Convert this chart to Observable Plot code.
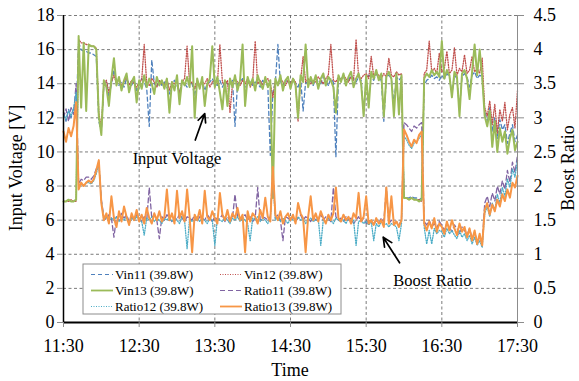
<!DOCTYPE html>
<html><head><meta charset="utf-8">
<script src="https://cdn.jsdelivr.net/npm/d3@7"></script>
<script src="https://cdn.jsdelivr.net/npm/@observablehq/plot@0.6"></script>
<style>
body{margin:0;background:#fff;}
#chart{width:579px;height:381px;}
#chart svg, #chart svg text{font-family:Liberation Serif, DejaVu Serif, serif !important;}
</style></head><body><div id="chart"></div>
<script>
// ---- axis definitions ----
const timeTicks = [0, 60, 120, 180, 240, 300, 360];          // minutes after 11:30
const timeLabels = ["11:30", "12:30", "13:30", "14:30", "15:30", "16:30", "17:30"];
const voltTicks = [0, 2, 4, 6, 8, 10, 12, 14, 16, 18];
const ratioTicks = [0, 0.5, 1, 1.5, 2, 2.5, 3, 3.5, 4, 4.5];
const R2V = 18 / 4.5;      // right axis (ratio) to left axis (volts)
const step = 2;            // sampling interval, minutes

// ---- series (one value every 2 minutes, 11:30 .. 17:30) ----
const vin11 = [
 12.3,11.8,12.5,12.0,12.6,12.2,16.4,16.0,15.9,15.9,
 15.8,15.8,15.7,15.6,11.8,11.2,13.9,14.1,13.2,14.0,
 14.8,14.2,13.9,14.1,13.8,14.3,14.0,13.9,14.2,13.6,
 14.0,14.3,14.1,13.7,11.5,15.4,14.0,13.8,14.2,13.9,
 14.1,13.8,13.4,14.0,14.2,13.9,13.5,14.1,14.0,13.8,
 14.2,14.0,13.3,14.1,13.9,14.2,13.6,14.0,14.1,14.3,
 14.0,13.9,14.2,13.8,14.1,14.0,13.9,14.2,11.5,14.0,
 14.1,14.3,13.8,14.0,14.2,13.9,14.1,14.0,13.8,14.2,
 14.0,13.9,9.8,13.5,14.1,16.3,14.0,13.9,14.2,14.1,
 13.9,14.2,14.0,13.8,14.3,12.4,14.1,14.0,14.2,13.9,
 14.3,14.1,14.0,14.4,14.2,13.9,14.3,14.1,9.7,14.2,
 14.3,14.4,14.1,14.2,14.5,14.3,14.1,14.4,14.2,12.2,
 14.3,14.5,14.4,14.2,14.6,14.3,14.2,11.8,14.4,14.5,
 14.3,12.8,14.4,14.2,14.4,7.4,7.3,7.3,7.4,7.3,
 7.3,7.2,7.3,13.9,14.2,14.3,14.5,14.3,14.4,14.2,
 14.5,14.3,14.6,14.4,13.4,14.5,14.3,12.5,14.4,14.6,
 14.4,13.8,14.5,14.7,14.3,14.5,14.4,12.4,11.8,12.6,
 11.2,12.0,10.8,11.9,11.3,11.6,10.5,11.1,11.6,10.6,
 11.0];
const vin12 = [
 7.1,7.1,7.1,7.2,7.1,7.1,16.6,16.4,16.4,16.3,
 16.3,16.2,16.2,16.1,12.3,11.4,14.0,14.2,13.5,14.1,
 14.5,14.0,14.3,13.9,14.1,14.4,13.9,14.2,14.0,13.8,
 14.1,14.2,16.3,14.0,13.9,14.3,14.1,13.8,14.2,14.0,
 13.9,14.3,13.6,14.1,14.0,14.2,13.4,14.1,14.3,16.2,
 14.0,14.1,13.7,14.2,13.9,14.1,14.0,14.3,13.8,14.1,
 14.2,14.0,16.3,14.1,13.9,14.2,12.3,14.0,14.3,14.1,
 13.9,14.2,14.0,14.3,13.8,14.1,16.5,14.0,14.2,13.9,
 14.1,14.3,14.0,13.2,14.2,14.0,14.3,14.1,13.9,14.2,
 14.0,14.3,14.1,11.8,14.2,15.6,14.1,14.3,14.0,14.2,
 14.1,14.4,14.2,14.0,14.3,14.5,16.3,14.2,14.1,14.4,
 14.2,14.5,14.3,14.1,14.4,14.2,16.6,14.4,14.3,14.5,
 14.6,14.3,15.6,14.4,14.6,14.5,14.3,14.6,14.4,15.5,
 14.5,14.4,14.7,14.5,14.6,7.3,7.3,7.2,7.3,7.2,
 7.2,7.2,7.1,14.6,14.8,16.5,14.7,14.9,14.6,15.8,
 14.7,14.9,15.9,14.6,14.8,16.1,14.5,14.9,14.7,15.7,
 14.6,14.8,15.6,14.7,14.9,14.6,15.5,12.6,12.1,13.0,
 11.6,12.8,11.1,12.5,11.8,12.9,11.3,12.2,12.6,11.4,
 13.6];
const vin13 = [
 7.1,7.1,7.2,7.1,7.1,7.2,16.8,12.6,16.4,12.4,
 16.3,16.2,16.2,16.0,12.1,11.0,14.2,13.8,12.7,14.3,
 15.5,13.9,14.4,13.6,14.2,14.6,13.5,14.1,14.4,12.9,
 14.2,13.7,14.5,13.8,14.3,14.0,13.4,14.4,13.9,14.2,
 13.7,14.3,12.3,14.1,13.6,14.5,12.8,14.2,13.9,14.4,
 13.8,16.2,12.0,14.3,13.7,14.4,12.7,14.0,14.3,16.2,
 13.8,14.4,13.5,12.5,14.2,12.7,14.3,13.8,14.5,13.6,
 14.2,16.3,12.7,14.4,13.9,14.3,13.6,14.5,14.0,13.7,
 14.4,13.8,14.2,7.3,14.3,13.9,14.5,13.6,14.2,14.4,
 13.7,14.3,13.9,12.0,14.5,14.1,16.3,13.8,14.4,14.0,
 14.5,13.7,14.3,14.6,13.9,14.4,14.2,13.8,12.3,14.5,
 14.1,14.6,13.9,14.4,14.7,13.8,14.3,14.6,14.0,12.1,
 14.5,12.6,14.7,14.3,14.8,14.2,14.6,12.1,14.4,14.7,
 14.3,12.1,14.6,12.2,14.5,7.3,7.3,7.2,7.3,7.2,
 7.2,7.1,7.2,14.3,14.6,14.4,14.8,14.5,14.7,14.4,
 16.5,14.3,14.8,14.5,13.2,14.7,14.4,12.1,14.6,14.8,
 14.3,13.1,14.7,16.3,14.5,16.0,14.4,12.1,11.5,12.4,
 10.3,11.8,10.0,11.4,10.6,11.2,9.9,10.8,11.3,10.1,
 10.6];
const ratio11 = [
 3.00,3.13,2.95,3.15,3.05,3.50,2.03,2.10,2.08,2.13,
 2.13,2.10,2.15,2.25,2.35,1.80,1.55,1.50,1.58,1.53,
 1.25,1.55,1.50,1.60,1.53,1.58,1.48,1.55,1.50,1.58,
 1.53,1.48,1.55,1.50,1.98,1.53,1.58,1.50,1.23,1.55,
 1.50,1.58,1.53,1.48,1.55,1.50,1.60,1.53,1.48,1.55,
 1.53,1.50,1.58,1.48,1.55,1.53,1.50,1.58,1.53,1.48,
 1.55,1.50,1.53,1.58,1.48,1.55,1.50,1.53,1.88,1.55,
 1.50,1.53,1.58,1.50,1.55,1.48,1.53,1.98,1.50,1.55,
 1.53,1.50,1.55,2.23,1.53,1.58,1.50,1.20,1.55,1.53,
 1.50,1.55,1.48,1.53,1.58,1.50,1.55,1.53,1.48,1.55,
 1.50,1.53,1.58,1.50,1.55,1.53,1.48,1.98,1.55,1.50,
 1.53,1.48,1.55,1.50,1.53,1.45,1.50,1.55,1.48,1.53,
 1.45,1.50,1.48,1.43,1.50,1.45,1.53,1.48,1.98,1.45,
 1.50,1.45,1.48,1.43,1.50,2.93,2.90,2.85,2.80,2.88,
 2.85,2.90,2.93,1.48,1.43,1.50,1.40,1.45,1.38,1.48,
 1.43,1.35,1.45,1.40,1.33,1.43,1.38,1.30,1.40,1.35,
 1.28,1.38,1.23,1.33,1.18,1.25,1.15,1.75,1.85,1.70,
 1.90,1.78,2.00,1.88,2.08,1.95,2.23,2.05,2.35,2.20,
 2.45];
const ratio12 = [
 3.05,2.98,3.10,3.03,3.13,3.38,2.00,2.03,2.00,2.05,
 2.05,2.03,2.08,2.18,2.33,1.78,1.50,1.55,1.48,1.53,
 1.50,1.55,1.48,1.53,1.50,1.55,1.45,1.53,1.50,1.55,
 1.50,1.48,1.28,1.53,1.50,1.55,1.48,1.53,1.50,1.45,
 1.53,1.50,1.55,1.48,1.53,1.50,1.45,1.55,1.50,1.08,
 1.53,1.48,1.50,1.55,1.48,1.53,1.50,1.45,1.53,1.50,
 1.13,1.53,1.50,1.48,1.55,1.50,1.45,1.53,1.50,1.55,
 1.48,1.53,1.50,1.45,1.20,1.53,1.50,1.55,1.48,1.53,
 1.50,1.45,1.53,2.13,1.50,1.55,1.48,1.53,1.50,1.45,
 1.53,1.50,1.48,1.55,1.50,1.53,1.45,1.50,1.53,1.48,
 1.50,1.53,1.13,1.50,1.48,1.53,1.50,1.45,1.53,1.50,
 1.48,1.50,1.45,1.53,1.48,1.50,1.13,1.48,1.50,1.45,
 1.48,1.43,1.48,1.20,1.45,1.40,1.48,1.43,1.45,1.40,
 1.45,1.43,1.40,1.20,1.45,2.73,2.68,2.60,2.55,2.63,
 2.65,2.70,2.75,1.40,1.15,1.35,1.15,1.38,1.30,1.35,
 1.33,1.25,1.38,1.30,1.35,1.28,1.23,1.35,1.25,1.30,
 1.20,1.28,1.15,1.25,1.13,1.20,1.10,1.60,1.70,1.55,
 1.75,1.65,1.88,1.75,1.98,1.85,2.10,1.98,2.25,2.13,
 2.38];
const ratio13 = [
 2.80,2.65,2.85,2.73,2.88,3.23,1.95,2.05,2.00,2.05,
 2.08,2.05,2.10,2.23,2.38,1.75,1.50,1.60,1.45,1.85,
 1.53,1.40,1.63,1.48,1.70,1.55,1.43,1.60,1.50,1.65,
 1.48,1.58,1.45,1.68,1.53,1.45,1.60,1.50,1.63,1.48,
 1.55,1.95,1.50,1.60,1.45,1.93,1.53,1.63,1.48,1.95,
 1.55,1.03,1.58,1.50,1.65,1.45,1.93,1.55,1.50,1.63,
 1.53,1.45,1.90,1.58,1.50,1.65,1.48,1.60,1.53,1.68,
 1.50,1.58,1.03,1.63,1.48,1.60,1.55,1.45,1.65,1.53,
 1.83,1.55,1.48,2.28,1.58,1.50,1.63,1.45,1.55,1.60,
 1.50,1.58,1.45,1.75,1.60,1.53,1.03,1.55,1.85,1.50,
 1.60,1.48,1.63,1.53,1.45,1.58,1.50,1.60,1.98,1.53,
 1.48,1.58,1.50,1.55,1.45,1.60,1.53,1.90,1.48,1.55,
 1.85,1.45,1.50,1.43,1.53,1.45,1.50,1.40,1.98,1.45,
 1.85,1.43,1.48,1.40,1.50,2.83,2.75,2.65,2.58,2.68,
 2.63,2.75,2.80,1.45,1.35,1.48,1.38,1.53,1.33,1.45,
 1.40,1.30,1.48,1.35,1.50,1.38,1.28,1.45,1.33,1.40,
 1.25,1.38,1.20,1.35,1.15,1.30,1.13,1.65,1.75,1.58,
 1.73,1.63,1.80,1.70,1.88,1.78,1.95,1.83,2.05,1.98,
 2.15];

const seriesNames = ["Vin11 (39.8W)", "Vin12 (39.8W)", "Vin13 (39.8W)", "Ratio11 (39.8W)", "Ratio12 (39.8W)", "Ratio13 (39.8W)"];
const seriesValues = [vin11, vin12, vin13, ratio11, ratio12, ratio13];
const seriesIsRatio = [false, false, false, true, true, true];
const seriesColors = ["#4F81BD", "#C0504D", "#9BBB59", "#8064A2", "#4BACC6", "#F79646"];
const seriesDash = ["4,3", "1,1.5", null, "5,3", "1,1.5", null];
const seriesWidth = [1.3, 1.3, 2, 1.3, 1.3, 2];

// annotations (in data coordinates: minutes after 11:30, volts)
const annotations = [
  {t: 90, v: 9.6, label: "Input Voltage"},
  {t: 292.5, v: 2.45, label: "Boost Ratio"}
];
const arrows = [
  {t1: 104.5, v1: 10.7, t2: 112, v2: 12.25},
  {t1: 266.5, v1: 3.5, t2: 253.5, v2: 5.0}
];

const FONT = "Liberation Serif, DejaVu Serif, serif";

const lineMarks = seriesValues.map((vals, k) => Plot.line(vals, {
  x: (d, i) => i * step,
  y: d => seriesIsRatio[k] ? d * R2V : d,
  stroke: seriesColors[k],
  strokeWidth: seriesWidth[k],
  strokeDasharray: seriesDash[k] || undefined,
  strokeLinejoin: "round"
}));

const gridStyle = {stroke: "#595959", strokeOpacity: 1, strokeDasharray: "3,2.5", strokeWidth: 0.8};

const chart = Plot.plot({
  width: 579, height: 381,
  marginLeft: 63, marginRight: 62, marginTop: 15, marginBottom: 59,
  style: {fontFamily: FONT, fontSize: "18px", background: "#fff", overflow: "visible"},
  x: {domain: [0, 360]},
  y: {domain: [0, 18]},
  marks: [
    Plot.gridY(voltTicks.slice(1), gridStyle),
    Plot.gridX(timeTicks.slice(1, -1), gridStyle),
    ...lineMarks,
    Plot.ruleX([360], {stroke: "#8c8c8c", strokeWidth: 1}),
    Plot.ruleX([0], {stroke: "#000", strokeWidth: 1.5}),
    Plot.ruleY([0], {stroke: "#000", strokeWidth: 2}),
    Plot.axisY(voltTicks, {anchor: "left", tickSize: 6, tickPadding: 3, fontSize: 18, fontFamily: FONT, stroke: "#8c8c8c", label: null}),
    Plot.axisY(ratioTicks.map(r => r * R2V), {anchor: "right", tickSize: 6, tickPadding: 10, fontSize: 18, fontFamily: FONT, stroke: "#8c8c8c", tickFormat: d => String(d / R2V), label: null}),
    Plot.axisX(timeTicks, {anchor: "bottom", tickSize: 5, tickPadding: 12, fontSize: 18, fontFamily: FONT, stroke: "#8c8c8c", tickFormat: (d, i) => timeLabels[i], label: null}),
    Plot.text(annotations, {x: "t", y: "v", text: "label", fontSize: 16.5, fontFamily: FONT, fill: "#000"}),
    Plot.arrow(arrows, {x1: "t1", y1: "v1", x2: "t2", y2: "v2", stroke: "#000", strokeWidth: 1.7, headLength: 10, headAngle: 50})
  ]
});

document.getElementById("chart").appendChild(chart);

// ---- axis titles ----
const svg = d3.select(chart);
svg.append("text").text("Input Voltage [V]")
  .attr("transform", "translate(16,168) rotate(-90)")
  .attr("text-anchor", "middle").attr("dy", "0.35em")
  .attr("font-size", 18).attr("font-family", FONT).attr("fill", "#000");
svg.append("text").text("Boost Ratio")
  .attr("transform", "translate(568,168) rotate(-90)")
  .attr("text-anchor", "middle").attr("dy", "0.35em")
  .attr("font-size", 18).attr("font-family", FONT).attr("fill", "#000");
svg.append("text").text("Time")
  .attr("x", 290).attr("y", 376)
  .attr("text-anchor", "middle")
  .attr("font-size", 18).attr("font-family", FONT).attr("fill", "#000");

// ---- legend ----
const lg = svg.append("g");
lg.append("rect").attr("x", 83).attr("y", 264).attr("width", 258).attr("height", 50)
  .attr("fill", "#fff").attr("stroke", "#8c8c8c").attr("stroke-width", 1);
const colX = [91, 220], rowY = [274.5, 290.5, 306.5];
seriesNames.forEach((name, k) => {
  const c = k % 2, r = Math.floor(k / 2);
  const x0 = colX[c], y0 = rowY[r];
  const ln = lg.append("line").attr("x1", x0).attr("x2", x0 + 22).attr("y1", y0).attr("y2", y0)
    .attr("stroke", seriesColors[k]).attr("stroke-width", seriesWidth[k] > 1.5 ? 1.8 : 1.2);
  if (seriesDash[k]) ln.attr("stroke-dasharray", seriesDash[k]);
  lg.append("text").text(name).attr("x", x0 + 24).attr("y", y0).attr("dy", "0.35em")
    .attr("text-anchor", "start")
    .attr("font-size", 13).attr("font-family", FONT).attr("fill", "#000");
});
</script></body></html>
